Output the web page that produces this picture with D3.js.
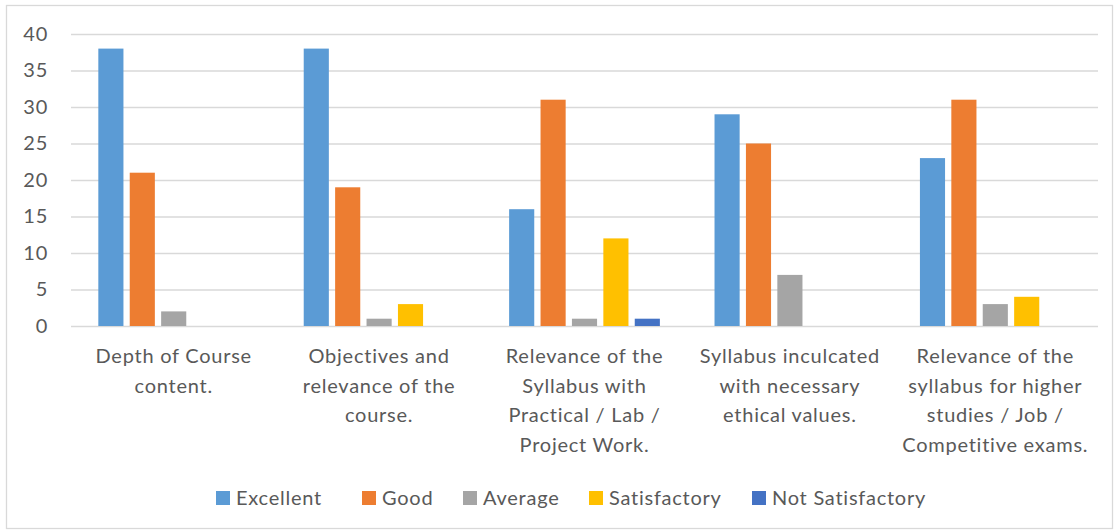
<!DOCTYPE html>
<html>
<head>
<meta charset="utf-8">
<script src="https://cdn.jsdelivr.net/npm/d3@7"></script>
<style>
  html, body { margin: 0; padding: 0; background: #fff; }
  svg { display: block; font-family: Lato, "Open Sans", sans-serif; }
</style>
</head>
<body>
<div id="chart"></div>
<script>
const WIDTH = 1114;
const HEIGHT = 531;

// category labels, already split on lines as in the picture
const categories = [
  ["Depth of Course", "content."],
  ["Objectives and", "relevance of the", "course."],
  ["Relevance of the", "Syllabus with", "Practical / Lab /", "Project Work."],
  ["Syllabus inculcated", "with necessary", "ethical values."],
  ["Relevance of the", "syllabus for higher", "studies / Job /", "Competitive exams."]
];
const seriesNames = ["Excellent", "Good", "Average", "Satisfactory", "Not Satisfactory"];
const seriesColors = ["#5B9BD5", "#ED7D31", "#A5A5A5", "#FFC000", "#4472C4"];

const excellent = [38, 38, 16, 29, 23];
const good = [21, 19, 31, 25, 31];
const average = [2, 1, 1, 7, 3];
const satisfactory = [0, 3, 12, 0, 4];
const notSatisfactory = [0, 0, 1, 0, 0];
const seriesValues = [excellent, good, average, satisfactory, notSatisfactory];

const yTicks = [0, 5, 10, 15, 20, 25, 30, 35, 40];

const TEXT_COLOR = "#595959";
const GRID_COLOR = "#d9d9d9";
const FONT_SIZE = 20;
const LETTER_SP = 0.75;

const plot = { left: 71, right: 1098, top: 34, bottom: 326 };

const svg = d3.select("#chart")
  .append("svg")
  .attr("width", WIDTH)
  .attr("height", HEIGHT);

// outer chart border
svg.append("rect")
  .attr("x", 6.5)
  .attr("y", 5.5)
  .attr("width", 1106)
  .attr("height", 523)
  .attr("fill", "#fff")
  .attr("stroke", GRID_COLOR)
  .attr("stroke-width", 1.3);

const x0 = d3.scaleBand()
  .domain(d3.range(categories.length))
  .range([plot.left, plot.right])
  .padding(0);

const x1 = d3.scaleBand()
  .domain(d3.range(seriesNames.length))
  .range([0, x0.bandwidth()])
  .paddingInner(0.2)
  .paddingOuter(0.87);

const y = d3.scaleLinear()
  .domain([0, 40])
  .range([plot.bottom, plot.top]);

// gridlines + y labels
const yAxis = d3.axisLeft(y)
  .tickValues(yTicks)
  .tickSize(-(plot.right - plot.left))
  .tickPadding(23);

const yg = svg.append("g")
  .attr("transform", `translate(${plot.left},0)`)
  .call(yAxis);
yg.select(".domain").remove();
yg.selectAll(".tick line")
  .attr("stroke", GRID_COLOR)
  .attr("stroke-width", 1.3);
yg.selectAll(".tick text")
  .attr("fill", TEXT_COLOR)
  .attr("font-size", FONT_SIZE)
  .attr("letter-spacing", LETTER_SP)
  .attr("font-family", "Lato, sans-serif");

// bars
const groups = svg.append("g")
  .selectAll("g")
  .data(categories)
  .enter()
  .append("g")
  .attr("transform", (d, i) => `translate(${x0(i)},0)`);

groups.selectAll("rect")
  .data((d, i) => seriesValues.map((vals, s) => ({ s: s, v: vals[i] })))
  .enter()
  .append("rect")
  .attr("x", d => x1(d.s))
  .attr("width", x1.bandwidth())
  .attr("y", d => y(d.v))
  .attr("height", d => y(0) - y(d.v))
  .attr("fill", d => seriesColors[d.s]);

// category labels
const LINE_H = 29.5;
groups.append("text")
  .attr("text-anchor", "middle")
  .attr("fill", TEXT_COLOR)
  .attr("font-size", FONT_SIZE)
  .attr("letter-spacing", LETTER_SP)
  .selectAll("tspan")
  .data(d => d)
  .enter()
  .append("tspan")
  .attr("x", x0.bandwidth() / 2)
  .attr("y", (d, i) => 363 + i * LINE_H)
  .text(d => d);

// legend
const legendX = [216, 362, 463, 589, 752];
const legend = svg.append("g")
  .selectAll("g")
  .data(seriesNames)
  .enter()
  .append("g")
  .attr("transform", (d, i) => `translate(${legendX[i]},491)`);

legend.append("rect")
  .attr("width", 14)
  .attr("height", 14)
  .attr("fill", (d, i) => seriesColors[i]);

legend.append("text")
  .attr("x", 20)
  .attr("y", 14)
  .attr("fill", TEXT_COLOR)
  .attr("font-size", FONT_SIZE)
  .attr("letter-spacing", LETTER_SP)
  .text(d => d);
</script>
</body>
</html>
